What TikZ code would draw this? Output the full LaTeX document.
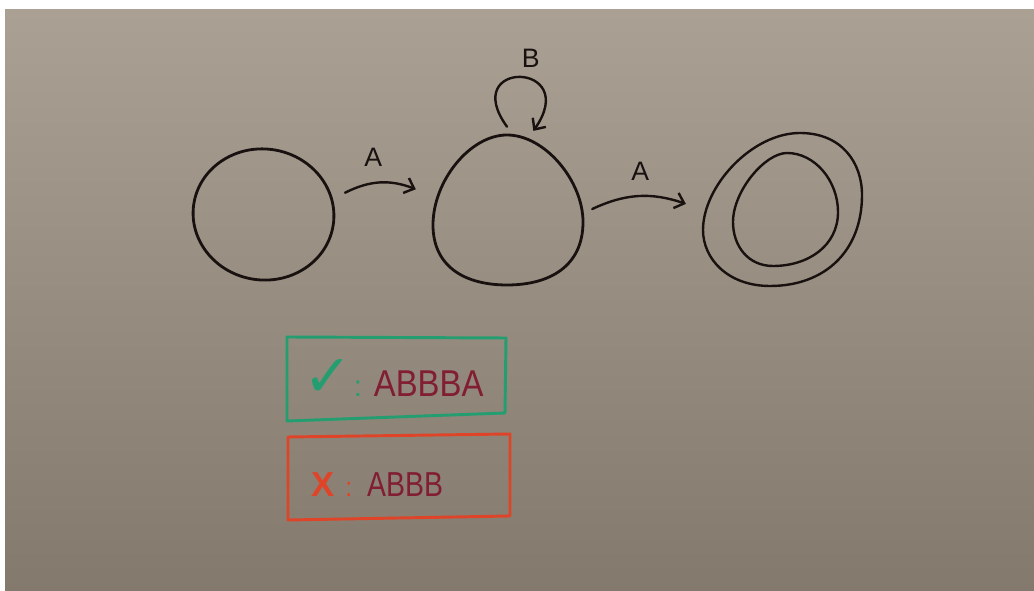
\documentclass[tikz,border=0pt]{standalone}
\usepackage{fontspec}
\setmainfont{Liberation Sans}
\newfontfamily\symfont{DejaVu Sans}
\usetikzlibrary{arrows.meta,calc}
\definecolor{board1}{RGB}{170,161,148}
\definecolor{board2}{RGB}{131,121,109}
\definecolor{ink}{RGB}{24,17,15}
\definecolor{mgreen}{RGB}{36,158,112}
\definecolor{mred}{RGB}{224,68,40}
\definecolor{maroon}{RGB}{130,30,50}
\begin{document}
\begin{tikzpicture}[x=0.75pt,y=0.75pt,
  inkline/.style={draw=ink,line width=2.1pt,line cap=round,line join=round},
  arr/.style={inkline,line width=1.8pt,-{Straight Barb[length=6.5pt,width=12pt,line width=1.8pt]}},
  stateref/.style={circle,inner sep=0pt,draw=none},
  lbl/.style={text=ink,inner sep=0pt,font=\fontsize{20}{20}\selectfont},
  boxline/.style={line width=2.2pt,line join=round},
]
\useasboundingbox (0,0) rectangle (1034,591);
\fill[white] (0,0) rectangle (1034,591);
\shade[top color=board1,bottom color=board2] (5,0) rectangle (1034,581);

% states (invisible reference nodes)
\node[stateref,minimum size=126pt] (s1) at (264,375) {};
\node[stateref,minimum size=127.5pt] (s2) at (507,379) {};
\node[stateref,minimum size=145.5pt] (s3) at (783,382) {};

% state outlines
\draw[inkline] (263.5,376.5) ellipse[x radius=70.5,y radius=65.5,rotate=-8];
\draw[inkline] (507,456) .. controls (545,456) and (583,410) .. (583,369)
  .. controls (583,325) and (550,306) .. (507,306)
  .. controls (464,306) and (433,325) .. (433,366)
  .. controls (433,410) and (470,456) .. (507,456) -- cycle;
\draw[inkline,line width=1.8pt] (800,458) .. controls (842,458) and (862,428) .. (862,396)
  .. controls (862,340) and (825,305) .. (770,305)
  .. controls (728,305) and (703,332) .. (703,361)
  .. controls (703,405) and (752,458) .. (800,458) -- cycle;
\draw[inkline,line width=1.8pt] (787,438) .. controls (815,438) and (838,410) .. (838,379)
  .. controls (838,345) and (808,325) .. (773,325)
  .. controls (748,325) and (733,345) .. (733,369)
  .. controls (733,400) and (765,438) .. (787,438) -- cycle;

% transitions
\draw[arr] (s1.16) to[bend left=24] node[lbl,above=12pt,pos=0.4] (la1) {A} ($(s2)+(166:94)$);
\draw[arr] (s2.2.7) to[bend left=22] node[lbl,above=11pt,pos=0.52] (la2) {A} (s3.177.6);
\draw[arr] (s2.90) .. controls (458,532) and (582,530) .. (s2.72)
  node[lbl,pos=0.5,above=6pt,xshift=8pt] (lb) {B};

% accepted example
\draw[mgreen,boxline] (287,254) -- (506,253) -- (505,178) -- (287,170) -- cycle;
\node[inner sep=0pt,anchor=west] (good) at (303,213)
  {{\symfont\fontsize{44}{44}\selectfont\color{mgreen}✓}\hspace{1pt}%
   {\fontsize{22}{22}\selectfont\color{mgreen}:}\hspace{9pt}%
   {\fontsize{28}{28}\selectfont\color{maroon}\scalebox{0.88}[1]{ABBBA}}};

% rejected example
\draw[mred,boxline] (288,154) -- (510,157) -- (510,75) -- (288,71) -- cycle;
\node[inner sep=0pt,anchor=west] (bad) at (311,106)
  {{\bfseries\fontsize{26}{26}\selectfont\color{mred}X}\hspace{8pt}%
   {\fontsize{20}{20}\selectfont\color{mred}:}\hspace{11pt}%
   {\fontsize{26}{26}\selectfont\color{maroon}\scalebox{0.82}[1]{ABBB}}};
\end{tikzpicture}
\end{document}
